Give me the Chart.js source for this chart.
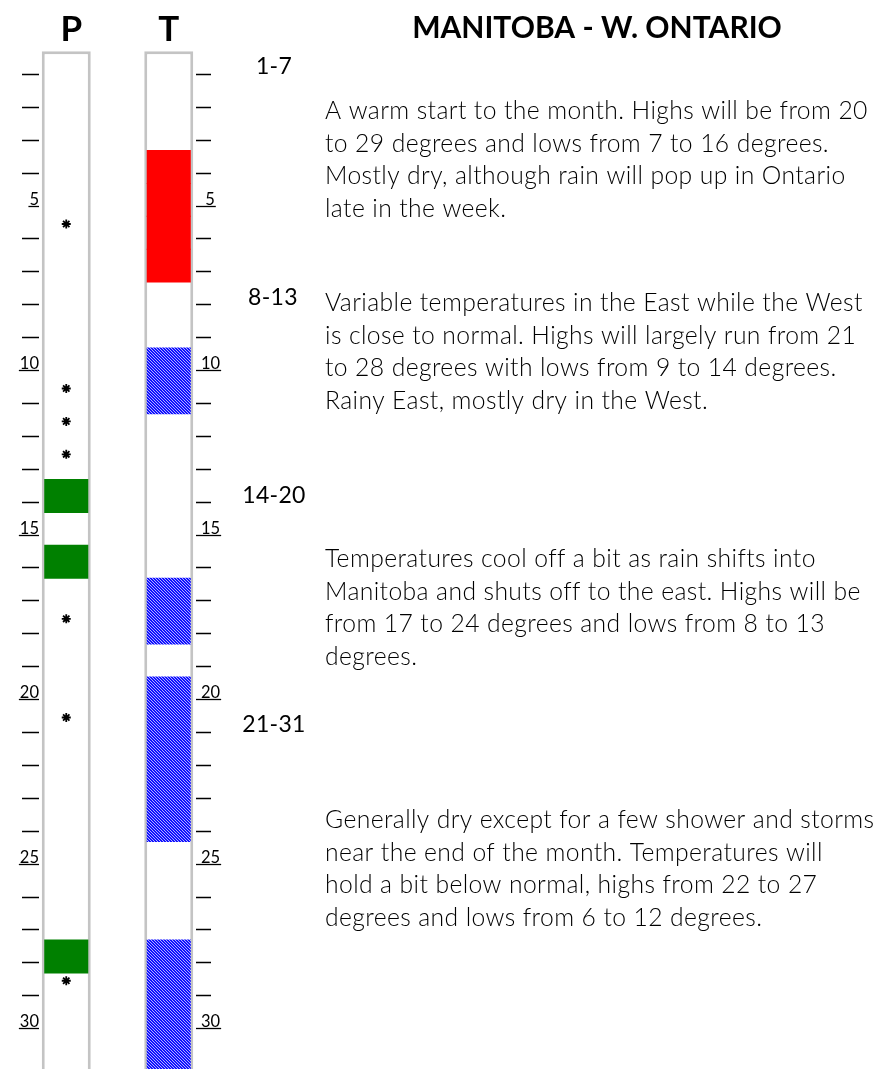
<!DOCTYPE html>
<html>
<head>
<meta charset="utf-8">
<script src="https://cdn.jsdelivr.net/npm/chart.js@4.4.1/dist/chart.umd.min.js"></script>
<style>
    html, body { margin: 0; padding: 0; background: #fff; overflow: hidden; }
    canvas { display: block; }
</style>
</head>
<body>
<canvas id="outlook" width="889" height="1069"></canvas>
<script>
// columns: P = precipitation, T = temperature
const columns = ['P', 'T'];
const tickDays = [1, 2, 3, 4, 5, 6, 7, 8, 9, 10, 11, 12, 13, 14, 15, 16, 17, 18, 19, 20, 21, 22, 23, 24, 25, 26, 27, 28, 29, 30];
const labelDays = [5, 10, 15, 20, 25, 30];
const monthDays = [1, 31];

const wetDays = [14, 16, 28];
const showerDays = [6, 11, 12, 13, 18, 21, 29];
const warmDays = [4, 5, 6, 7];
const coolDays = [10, 11, 17, 18, 20, 21, 22, 23, 24, 28, 29, 30, 31];

const title = 'MANITOBA - W. ONTARIO';
const periods = ['1-7', '8-13', '14-20', '21-31'];
const notes = [
    ['A warm start to the month. Highs will be from 20',
     'to 29 degrees and lows from 7 to 16 degrees.',
     'Mostly dry, although rain will pop up in Ontario',
     'late in the week.'],
    ['Variable temperatures in the East while the West',
     'is close to normal. Highs will largely run from 21',
     'to 28 degrees with lows from 9 to 14 degrees.',
     'Rainy East, mostly dry in the West.'],
    ['Temperatures cool off a bit as rain shifts into',
     'Manitoba and shuts off to the east. Highs will be',
     'from 17 to 24 degrees and lows from 8 to 13',
     'degrees.'],
    ['Generally dry except for a few shower and storms',
     'near the end of the month. Temperatures will',
     'hold a bit below normal, highs from 22 to 27',
     'degrees and lows from 6 to 12 degrees.']
];

const FONT = 'Lato, "DejaVu Sans", sans-serif';

// each day fills the band around its tick (tick sits 2/3 down)
function slot(d) {
    return [d - 0.69, d + 0.34];
}

function makeHatch() {
    const c = document.createElement('canvas');
    c.width = 3;
    c.height = 3;
    const g = c.getContext('2d');
    g.fillStyle = '#1212ff';
    g.fillRect(0, 0, 3, 3);
    g.fillStyle = '#b0b0ff';
    for (let y = 0; y < 3; y++) {
        g.fillRect(y, y, 1, 1);
    }
    return g.createPattern(c, 'repeat');
}

const sidePlugin = {
    id: 'side',
    afterDraw(chart) {
        const ctx = chart.ctx;
        const ys = chart.scales.y;
        const xs = chart.scales.x;
        ctx.save();
        ctx.fillStyle = '#000';
        ctx.strokeStyle = '#000';
        ctx.lineWidth = 1.3;

        // day ticks, every fifth one written and underlined
        ctx.font = '16.5px ' + FONT;
        ctx.textBaseline = 'alphabetic';
        tickDays.forEach(d => {
            const y = Math.round(ys.getPixelForValue(d)) + 0.5;
            if (labelDays.includes(d)) {
                const txt = String(d);
                const w = ctx.measureText(txt).width;
                ctx.textAlign = 'right';
                ctx.fillText(txt, 39, y - 2);
                ctx.beginPath();
                ctx.moveTo(38 - w, y);
                ctx.lineTo(39, y);
                ctx.stroke();
                const rt = (txt.length < 2 ? ' ' : '') + txt;
                const rw = ctx.measureText(rt).width;
                ctx.textAlign = 'left';
                ctx.fillText(rt, 201, y - 2);
                ctx.beginPath();
                ctx.moveTo(196, y);
                ctx.lineTo(202 + rw, y);
                ctx.stroke();
            } else {
                ctx.beginPath();
                ctx.moveTo(22, y);
                ctx.lineTo(39, y);
                ctx.moveTo(196, y);
                ctx.lineTo(211, y);
                ctx.stroke();
            }
        });

        // column heads
        ctx.font = 'bold 35px ' + FONT;
        ctx.textAlign = 'center';
        ctx.fillText(columns[0], xs.getPixelForValue(0) + 5, 41);
        ctx.fillText(columns[1], xs.getPixelForValue(1), 41);

        // title
        ctx.font = 'bold 30px ' + FONT;
        ctx.fillText(title, 597, 38, 376);

        // period labels and notes
        const labelY = [74, 305, 503, 732];
        const labelX = [274, 273, 274, 274];
        const noteY = [119, 311, 567, 828];
        ctx.font = '23px ' + FONT;
        ctx.letterSpacing = '0.3px';
        periods.forEach((p, i) => {
            ctx.fillText(p, labelX[i], labelY[i]);
        });
        ctx.font = '300 24.7px ' + FONT;
        ctx.letterSpacing = '0.4px';
        ctx.textAlign = 'left';
        notes.forEach((lines, i) => {
            lines.forEach((line, j) => {
                ctx.fillText(line, 325, noteY[i] + j * 32.7);
            });
        });
        ctx.restore();
    }
};

const barCommon = {
    categoryPercentage: 1,
    grouped: false,
    borderWidth: 0,
    borderSkipped: false
};

document.addEventListener('DOMContentLoaded', () => {
    const hatch = makeHatch();
    new Chart(document.getElementById('outlook'), {
        type: 'bar',
        data: {
            labels: columns,
            datasets: [
                Object.assign({}, barCommon, {
                    label: 'column',
                    data: columns.map(c => ({ x: c, y: [slot(monthDays[0])[0], slot(monthDays[1])[1]] })),
                    backgroundColor: '#ffffff',
                    borderColor: '#c4c4c4',
                    borderWidth: 3,
                    barPercentage: 0.478,
                    order: 4
                }),
                Object.assign({}, barCommon, {
                    label: 'wet',
                    data: wetDays.map(d => ({ x: 'P', y: slot(d) })),
                    backgroundColor: '#008000',
                    barPercentage: 0.43,
                    order: 2
                }),
                Object.assign({}, barCommon, {
                    label: 'warm',
                    data: warmDays.map(d => ({ x: 'T', y: slot(d) })),
                    backgroundColor: '#ff0000',
                    barPercentage: 0.43,
                    order: 2
                }),
                Object.assign({}, barCommon, {
                    label: 'cool',
                    data: coolDays.map(d => ({ x: 'T', y: slot(d) })),
                    backgroundColor: hatch,
                    barPercentage: 0.43,
                    order: 2
                }),
                {
                    type: 'line',
                    label: 'showers',
                    data: showerDays.map(d => ({ x: 'P', y: d - 0.44 })),
                    showLine: false,
                    pointStyle: 'star',
                    pointRadius: 4.5,
                    borderColor: '#000',
                    backgroundColor: '#000',
                    borderWidth: 1.8,
                    order: 0
                }
            ]
        },
        options: {
            responsive: false,
            devicePixelRatio: 1,
            animation: false,
            layout: { autoPadding: false, padding: { left: 15, right: 669, top: 40, bottom: 0 } },
            plugins: {
                legend: { display: false },
                tooltip: { enabled: false }
            },
            scales: {
                x: { type: 'category', display: false, offset: true },
                y: { type: 'linear', display: false, reverse: true, min: -0.033, max: 31.243 }
            }
        },
        plugins: [sidePlugin]
    });
});
</script>
</body>
</html>
